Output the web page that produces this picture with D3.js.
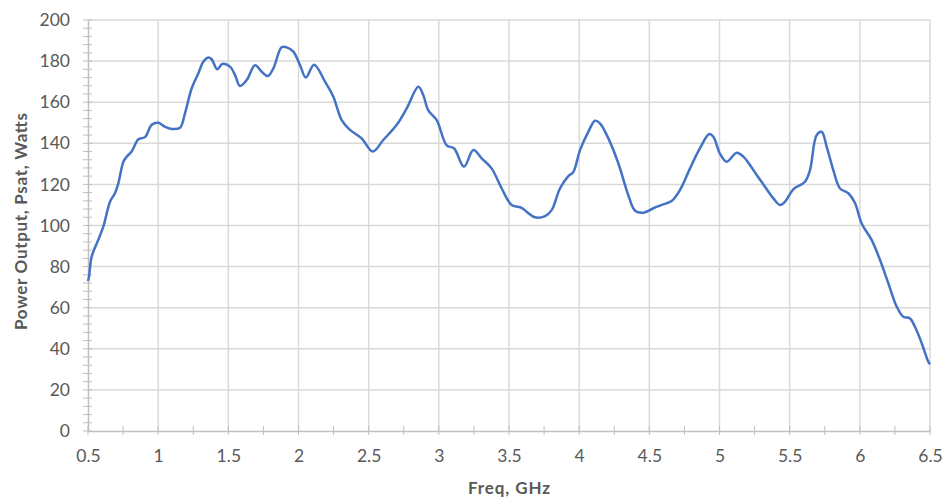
<!DOCTYPE html>
<html>
<head>
<meta charset="utf-8">
<script src="https://cdn.jsdelivr.net/npm/d3@7"></script>
<style>
  body { margin: 0; background: #fff; }
  svg text { font-family: Lato, "Open Sans", "Liberation Sans", sans-serif; }
</style>
</head>
<body>
<div id="chart"></div>
<script>
// Power output vs frequency
const freqGHz = [
  0.5, 0.507, 0.526, 0.573, 0.609, 0.657, 0.692, 0.716, 0.752, 0.776, 0.811, 0.859, 0.906, 0.954,
  1.001, 1.049, 1.096, 1.156, 1.191, 1.239, 1.286, 1.322, 1.357, 1.381, 1.421, 1.457, 1.512,
  1.548, 1.583, 1.631, 1.690, 1.738, 1.781, 1.821, 1.880, 1.916, 1.963, 2.011, 2.052, 2.111,
  2.189, 2.248, 2.308, 2.367, 2.450, 2.529, 2.604, 2.700, 2.771, 2.854, 2.889, 2.925, 2.985,
  3.056, 3.108, 3.179, 3.246, 3.305, 3.376, 3.448, 3.519, 3.590, 3.626, 3.685, 3.757, 3.804,
  3.863, 3.923, 3.958, 4.006, 4.065, 4.113, 4.148, 4.208, 4.279, 4.350, 4.398, 4.457, 4.529,
  4.588, 4.659, 4.719, 4.790, 4.861, 4.927, 4.956, 5.003, 5.051, 5.122, 5.170, 5.217, 5.265,
  5.324, 5.384, 5.431, 5.467, 5.526, 5.609, 5.645, 5.692, 5.728, 5.764, 5.811, 5.859, 5.918,
  5.966, 6.013, 6.084, 6.144, 6.203, 6.263, 6.310, 6.358, 6.393, 6.441, 6.488, 6.5
];
const psatWatts = [
  73, 75, 84.8, 93, 99.4, 111.6, 115.7, 120.5, 131, 133.5, 136, 142, 143, 149,
  150, 148, 147, 147.6, 154.6, 166.8, 174, 179.7, 181.8, 180.9, 176, 178.6, 177.3,
  173.2, 167.9, 170.8, 178, 174.8, 172.7, 176.5, 186.7, 186.7, 184.6, 178, 172, 178.2,
  170, 162.7, 151.3, 146.5, 142.4, 136, 141.6, 149, 157, 167.5, 163.5, 156, 151.3,
  139, 137.6, 128.6, 136.7, 132.7, 127.8, 118, 110, 108.6, 106.7, 104, 104.6, 107.5,
  118, 124, 126, 136.7, 145.6, 151, 149.7, 142.4, 130.3, 114.8, 107.2, 106.2, 108.4,
  110, 111.9, 117.3, 127.8, 137.6, 144.5, 143.2, 135, 131, 135.4, 133.5, 129.4, 124.6,
  118.9, 113.2, 110, 111.6, 117.6, 121.3, 127, 144, 145.6, 138.3, 127, 118, 115.7,
  110.8, 101, 93, 83.2, 71.9, 60.5, 55.6, 54.8, 50.7, 42.7, 33.7, 32.5
];
const xTicks = [0.5, 1, 1.5, 2, 2.5, 3, 3.5, 4, 4.5, 5, 5.5, 6, 6.5];
const yTicks = [0, 20, 40, 60, 80, 100, 120, 140, 160, 180, 200];

const data = freqGHz.map((f, i) => ({ f, p: psatWatts[i] }));

const W = 951, H = 499;
const margin = { top: 20, right: 21, bottom: 68, left: 88 };
const width = W - margin.left - margin.right;
const height = H - margin.top - margin.bottom;

const svg = d3.select('#chart')
  .append('svg')
  .attr('width', W)
  .attr('height', H)
  .append('g')
  .attr('transform', `translate(${margin.left},${margin.top})`);

const x = d3.scaleLinear().domain([0.5, 6.5]).range([0, width]);
const y = d3.scaleLinear().domain([0, 200]).range([height, 0]);

// Gridlines
svg.append('g')
  .selectAll('line')
  .data(yTicks.slice(1))
  .enter()
  .append('line')
  .attr('x1', 0).attr('x2', width)
  .attr('y1', d => y(d)).attr('y2', d => y(d))
  .attr('stroke', '#d9d9d9').attr('stroke-width', 1.5);

svg.append('g')
  .selectAll('line')
  .data(xTicks.slice(1))
  .enter()
  .append('line')
  .attr('x1', d => x(d)).attr('x2', d => x(d))
  .attr('y1', 0).attr('y2', height)
  .attr('stroke', '#d9d9d9').attr('stroke-width', 1.5);

// Minor ticks crossing the axes
svg.append('g')
  .selectAll('line')
  .data(d3.range(0, 201, 4))
  .enter()
  .append('line')
  .attr('x1', -5).attr('x2', 4)
  .attr('y1', d => y(d)).attr('y2', d => y(d))
  .attr('stroke', '#bfbfbf').attr('stroke-width', 1);

svg.append('g')
  .selectAll('line')
  .data(d3.range(0.5, 6.51, 0.25))
  .enter()
  .append('line')
  .attr('x1', d => x(d)).attr('x2', d => x(d))
  .attr('y1', height - 5).attr('y2', height + 4)
  .attr('stroke', '#bfbfbf').attr('stroke-width', 1);

// Axes
const xAxis = svg.append('g')
  .attr('transform', `translate(0,${height})`)
  .call(d3.axisBottom(x).tickValues(xTicks).tickSize(0).tickPadding(19).tickFormat(d3.format('')));

const yAxis = svg.append('g')
  .call(d3.axisLeft(y).tickValues(yTicks).tickSize(0).tickPadding(18));

xAxis.select('.domain').attr('stroke', '#bfbfbf').attr('stroke-width', 1.5);
yAxis.select('.domain').attr('stroke', '#bfbfbf').attr('stroke-width', 1.5);
svg.selectAll('.tick text')
  .style('font-size', '17.5px')
  .style('fill', '#595959');

// Line
const line = d3.line()
  .x(d => x(d.f))
  .y(d => y(d.p))
  .curve(d3.curveCatmullRom.alpha(0.5));

svg.append('path')
  .datum(data)
  .attr('fill', 'none')
  .attr('stroke', '#4472c4')
  .attr('stroke-width', 2.5)
  .attr('stroke-linejoin', 'round')
  .attr('d', line);

// Axis titles
svg.append('text')
  .attr('x', x(3.5))
  .attr('y', height + 63)
  .attr('text-anchor', 'middle')
  .attr('textLength', 82)
  .attr('lengthAdjust', 'spacing')
  .style('font-size', '17px')
  .style('font-weight', '700')
  .style('fill', '#595959')
  .text('Freq, GHz');

svg.append('text')
  .attr('transform', `translate(${-61},${height / 2 - 4}) rotate(-90)`)
  .attr('text-anchor', 'middle')
  .attr('textLength', 217)
  .attr('lengthAdjust', 'spacing')
  .style('font-size', '17px')
  .style('font-weight', '700')
  .style('fill', '#595959')
  .text('Power Output, Psat, Watts');
</script>
</body>
</html>
